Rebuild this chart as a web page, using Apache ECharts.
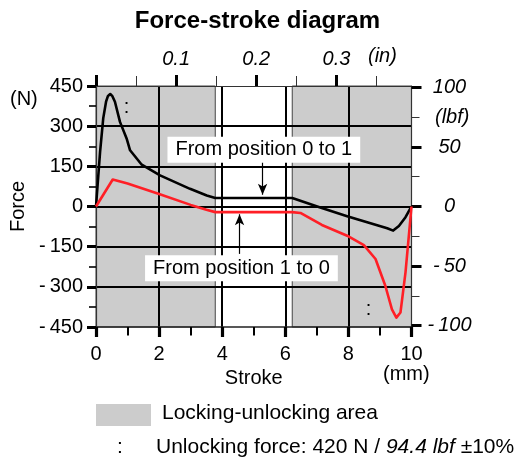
<!DOCTYPE html>
<html>
<head>
<meta charset="utf-8">
<script src="https://cdn.jsdelivr.net/npm/echarts@6/dist/echarts.min.js"></script>
<style>
  html, body { margin: 0; padding: 0; background: #fff; }
  #chart { width: 515px; height: 462px; }
</style>
</head>
<body>
<div id="chart"></div>
<script>
// Force-stroke curves of the latch, metric axes with imperial secondary axes
const FONT = '"Liberation Sans", Arial, Helvetica, sans-serif';
const N_PER_LBF = 4.44822;
const MM_PER_IN = 25.4;

const strokeRange = [0, 10];          // mm
const forceRange = [-450, 450];       // N

// [stroke mm, force N]
const pos0to1 = [[0, 0], [0.13, 205], [0.23, 330], [0.32, 392], [0.38, 413], [0.45, 420],
  [0.52, 412], [0.6, 391], [0.76, 316], [0.97, 254], [1.08, 210], [1.45, 156], [2.03, 116],
  [2.98, 66], [3.51, 41], [3.78, 32], [6.22, 32], [7.06, -2], [7.96, -36], [9.23, -81],
  [9.42, -90], [9.6, -73], [9.81, -40], [10, 0]];
const pos1to0 = [[0, 0], [0.53, 101], [1.0, 86], [2.0, 47], [3.0, 6], [3.5, -12], [3.78, -21],
  [6.21, -21], [6.48, -24], [7.16, -69], [7.96, -109], [8.49, -144], [8.86, -196], [9.17, -296],
  [9.38, -384], [9.52, -415], [9.65, -396], [9.81, -246], [10, 0]];

// Locking-unlocking zones, stroke from/to in mm
const lockingZones = [[0, 3.78], [6.22, 10]];

// Secondary axis ticks
const inchMajorTicks = [0, 0.1, 0.2, 0.3];
const inchLabels = [0.1, 0.2, 0.3];
const inchMinorTicks = [0.05, 0.15, 0.25, 0.35];
const lbfMajorTicks = [-100, -50, 0, 50, 100];
const lbfMinorTicks = [-75, -25, 25, 75];

// Callouts: text and anchor [mm, N]; arrows from box edge to curve
const callouts = [
  { name: 'From position 0 to 1', value: [5.32, 212] },
  { name: 'From position 1 to 0', value: [4.61, -231] }
];
const arrow0to1 = [[5.28, 167], [5.28, 44]];
const arrow1to0 = [[4.55, -177], [4.55, -29]];
// Unlocking force markers ":" [mm, N]
const unlockMarks = [[0.97, 368], [8.64, -386]];

const chart = echarts.init(document.getElementById('chart'), null, { renderer: 'canvas' });

const labelStyle = { fontFamily: FONT, fontSize: 20, color: '#000' };
const thinGray = { color: '#333', width: 1.2 };
// negative tick values carry a thin gap after the minus sign
const signed = v => (v < 0 ? '-\u2009' + Math.abs(v) : String(v));

function arrowMarkLine(seg) {
  return {
    silent: true,
    symbol: ['none', 'arrow'],
    symbolSize: [7, 11],
    lineStyle: { color: '#000', width: 1.2, type: 'solid' },
    label: { show: false },
    emphasis: { disabled: true },
    animation: false,
    data: [[{ coord: seg[0] }, { coord: seg[1] }]]
  };
}

chart.setOption({
  animation: false,
  backgroundColor: '#fff',
  title: {
    text: 'Force-stroke diagram',
    left: 'center',
    top: 4,
    textStyle: { fontFamily: FONT, fontSize: 24, fontWeight: 'bold', color: '#000' }
  },
  grid: { left: 96, right: 103.5, top: 86, bottom: 135, containLabel: false },
  xAxis: [
    {
      type: 'value', position: 'bottom', min: strokeRange[0], max: strokeRange[1], interval: 2, z: 2,
      axisLine: { show: true, onZero: false, lineStyle: { color: '#222', width: 1.5 } },
      axisTick: { show: true, length: 10, lineStyle: { color: '#000', width: 3.2 } },
      minorTick: { show: true, splitNumber: 2, length: 8.5, lineStyle: { color: '#000', width: 2 } },
      axisLabel: Object.assign({ margin: 17 }, labelStyle),
      splitLine: { show: true, showMinLine: false, showMaxLine: false, lineStyle: { color: '#000', width: 2 } },
      name: 'Stroke', nameLocation: 'middle', nameGap: 36,
      nameTextStyle: labelStyle
    },
    {
      type: 'value', position: 'top', min: 0, max: strokeRange[1] / MM_PER_IN, z: 2,
      axisLine: { show: true, onZero: false, lineStyle: thinGray },
      axisTick: { show: true, customValues: inchMajorTicks, length: 11, lineStyle: { color: '#000', width: 3 } },
      axisLabel: Object.assign({ customValues: inchLabels, margin: 17, fontStyle: 'italic' }, labelStyle),
      splitLine: { show: false }
    },
    {
      type: 'value', position: 'top', min: 0, max: strokeRange[1] / MM_PER_IN, z: 2,
      axisLine: { show: false, onZero: false },
      axisTick: { show: true, customValues: inchMinorTicks, length: 10, lineStyle: { color: '#333', width: 1 } },
      axisLabel: { show: false },
      splitLine: { show: false }
    }
  ],
  yAxis: [
    {
      type: 'value', position: 'left', min: forceRange[0], max: forceRange[1], interval: 150, z: 2,
      axisLine: { show: true, onZero: false, lineStyle: thinGray },
      axisTick: { show: true, length: 9, lineStyle: { color: '#000', width: 3 } },
      minorTick: { show: true, splitNumber: 2, length: 7, lineStyle: { color: '#000', width: 1.6 } },
      axisLabel: Object.assign({ margin: 13, formatter: signed }, labelStyle),
      splitLine: { show: true, showMinLine: false, showMaxLine: false, lineStyle: { color: '#000', width: 2 } },
      name: 'Force', nameLocation: 'middle', nameGap: 62,
      nameTextStyle: labelStyle
    },
    {
      type: 'value', position: 'right', min: forceRange[0] / N_PER_LBF, max: forceRange[1] / N_PER_LBF, z: 2,
      axisLine: { show: true, onZero: false, lineStyle: thinGray },
      axisTick: { show: true, customValues: lbfMajorTicks, length: 10, lineStyle: { color: '#000', width: 3 } },
      axisLabel: Object.assign({ customValues: lbfMajorTicks, margin: 38, align: 'center', fontStyle: 'italic',
        formatter: signed }, labelStyle),
      splitLine: { show: false }
    },
    {
      type: 'value', position: 'right', min: forceRange[0] / N_PER_LBF, max: forceRange[1] / N_PER_LBF, z: 2,
      axisLine: { show: false, onZero: false },
      axisTick: { show: true, customValues: lbfMinorTicks, length: 8, lineStyle: { color: '#333', width: 1 } },
      axisLabel: { show: false },
      splitLine: { show: false }
    }
  ],
  series: [
    {
      name: 'Locking-unlocking area',
      type: 'line', data: [], silent: true,
      markArea: {
        silent: true,
        itemStyle: { color: '#cccccc', borderColor: '#444', borderWidth: 1 },
        data: lockingZones.map(z => [{ xAxis: z[0] }, { xAxis: z[1] }])
      }
    },
    {
      name: 'From position 0 to 1',
      type: 'line', data: pos0to1, z: 3, showSymbol: false, symbol: 'none', silent: true,
      lineStyle: { color: '#000', width: 2.6, join: 'round' },
      markLine: arrowMarkLine(arrow0to1)
    },
    {
      name: 'From position 1 to 0',
      type: 'line', data: pos1to0, z: 3, showSymbol: false, symbol: 'none', silent: true,
      lineStyle: { color: '#ff1f26', width: 2.6, join: 'round' },
      markLine: arrowMarkLine(arrow1to0)
    },
    {
      name: 'callouts',
      type: 'scatter', data: callouts, z: 6, symbolSize: 0, silent: true,
      itemStyle: { opacity: 1 },
      label: {
        show: true, position: 'inside', formatter: '{b}',
        fontFamily: FONT, fontSize: 20, color: '#000',
        backgroundColor: '#ffffff', padding: [3, 8, 3, 8]
      }
    },
    {
      name: 'unlocking force',
      type: 'scatter', data: unlockMarks, z: 6, symbolSize: 0, silent: true,
      itemStyle: { opacity: 1 },
      label: { show: true, position: 'inside', formatter: ':', fontFamily: FONT, fontSize: 20, color: '#000' }
    }
  ],
  graphic: [
    { type: 'text', left: 368, top: 46, style: { text: '(in)', font: 'italic 20px ' + FONT, fill: '#000' } },
    { type: 'text', left: 435, top: 107, style: { text: '(lbf)', font: 'italic 20px ' + FONT, fill: '#000' } },
    { type: 'text', left: 10, top: 89, style: { text: '(N)', font: '20px ' + FONT, fill: '#000' } },
    { type: 'text', left: 383, top: 364, style: { text: '(mm)', font: '20px ' + FONT, fill: '#000' } },
    { type: 'rect', left: 96, top: 404, shape: { width: 55, height: 22 }, style: { fill: '#cccccc' } },
    { type: 'text', left: 162, top: 403, style: { text: 'Locking-unlocking area', font: '21px ' + FONT, fill: '#000' } },
    { type: 'text', left: 117, top: 437, style: { text: ':', font: '21px ' + FONT, fill: '#000' } },
    {
      type: 'text', left: 156, top: 437,
      style: {
        text: 'Unlocking force: 420 N / {i|94.4 lbf} ±10%',
        font: '21px ' + FONT, fill: '#000',
        rich: { i: { fontStyle: 'italic', fontSize: 21, fontFamily: FONT, fill: '#000' } }
      }
    }
  ]
});
</script>
</body>
</html>
